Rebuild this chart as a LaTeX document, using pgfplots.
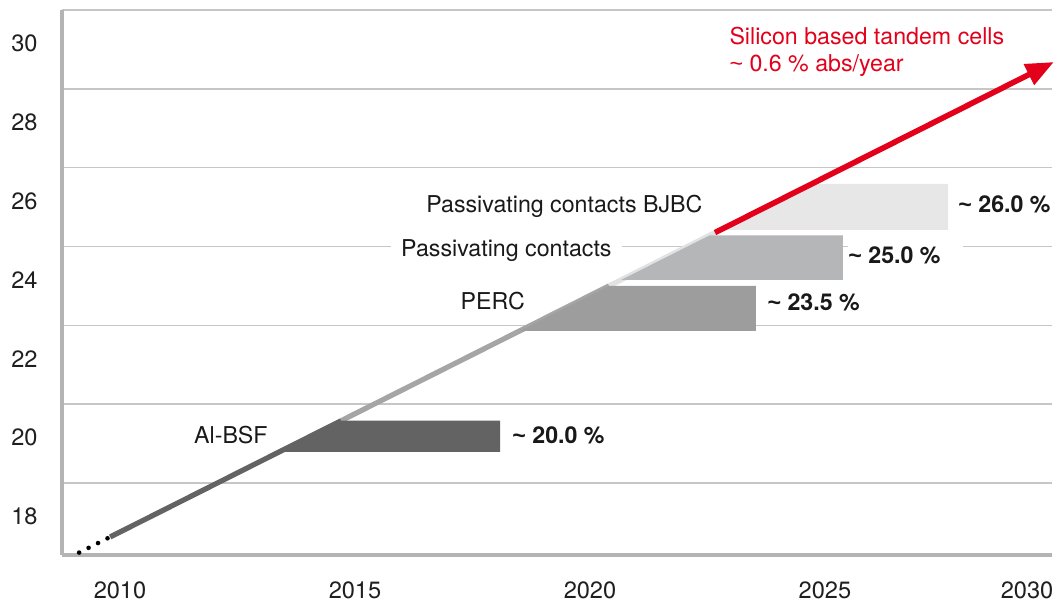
\documentclass[border=0pt]{standalone}
\usepackage{fontspec}
\setmainfont{TeX Gyre Heros}
\newfontfamily\tildefont{Liberation Sans}
\newcommand\tld{{\tildefont\char"7E}}
\usepackage{pgfplots}
\pgfplotsset{compat=1.18}
\usetikzlibrary{arrows.meta}
\definecolor{gridgray}{HTML}{C6C6C6}
\definecolor{axisgray}{HTML}{B4B4B4}
\definecolor{bsf}{HTML}{636363}
\definecolor{perc}{HTML}{9D9D9D}
\definecolor{pline}{HTML}{A5A5A5}
\definecolor{pc}{HTML}{B5B6B8}
\definecolor{bjbc}{HTML}{E7E7E7}
\definecolor{lightline}{HTML}{E2E2E2}
\definecolor{ise}{HTML}{E2001A}
\tikzset{
  lbl/.style={font=\fontsize{11.6}{14}\selectfont, text=black!90, inner sep=0pt},
  val/.style={font=\fontsize{11.6}{14}\selectfont\bfseries, text=black!90, inner sep=0pt},
}

\begin{document}
\begin{tikzpicture}
\begin{axis}[
  width=495pt, height=272.5pt, scale only axis,
  xmin=2008.766, xmax=2029.83, ymin=17.173, ymax=31,
  axis lines=left, axis line style={-, draw=axisgray, line width=1.7pt},
  xtick={2010,2015,2020,2025,2029.3},
  xticklabels={2010,2015,2020,2025,2030},
  ytick={18,20,...,30}, yticklabels={18,20,22,24,26,28,30},
  minor ytick={19,21,...,31}, yminorgrids,
  minor grid style={draw=gridgray, line width=0.7pt},
  major tick length=0pt, minor tick length=0pt,
  tick label style={font=\fontsize{11.8}{14}\selectfont, text=black!88},
  xticklabel style={anchor=north, inner sep=0pt, yshift=-13pt},
  yticklabel style={anchor=east, inner sep=0pt, xshift=-12pt, yshift=3pt},
  clip=false,
]
% trend line, efficiency ~ 0.6 %abs per year
\addplot[black, line width=2.3pt, line cap=round, dash pattern=on 0pt off 5.3pt]
  coordinates {(2009.13,17.234) (2009.79,17.63)};
\addplot[bsf, line width=2.6pt] coordinates {(2009.79,17.63) (2014.71,20.582)};
\addplot[pline, line width=2.6pt] coordinates {(2014.71,20.582) (2020.41,24.002)};
\addplot[lightline, line width=2.6pt] coordinates {(2020.41,24.002) (2022.66,25.352)};

% technology bars
\addplot[draw=none, fill=bsf] coordinates {(2013.39,19.79) (2014.71,20.58) (2018.09,20.58) (2018.09,19.79)};
\addplot[draw=none, fill=perc] coordinates {(2018.51,22.86) (2020.41,24.0) (2023.53,24.0) (2023.53,22.86)};
\addplot[draw=none, fill=pc] coordinates {(2020.66,24.15) (2022.54,25.28) (2025.38,25.28) (2025.38,24.15)};
\addplot[draw=none, fill=bjbc] coordinates {(2022.77,25.42) (2024.72,26.59) (2027.62,26.59) (2027.62,25.42)};

% tandem arrow
\addplot[ise, line width=2.8pt, -{Triangle[length=14pt, width=11pt]}]
  coordinates {(2022.66,25.352) (2029.87,29.68)};

\node[lbl, anchor=base east] at (axis cs:2013.15,20.01) {Al-BSF};
\node[val, anchor=base west] at (axis cs:2018.34,20.01) {\tld{} 20.0 \%};
\node[lbl, anchor=base east] at (axis cs:2018.62,23.39) {PERC};
\node[val, anchor=base west] at (axis cs:2023.77,23.37) {\tld{} 23.5 \%};
\node[lbl, anchor=base east, fill=white, inner xsep=5pt, inner ysep=3pt] at (axis cs:2020.68,24.74) {Passivating contacts};
\node[val, anchor=base west, fill=white, inner xsep=0pt, inner ysep=3pt] at (axis cs:2025.49,24.58) {\tld{} 25.0 \%\hspace*{11pt}};
\node[lbl, anchor=base east] at (axis cs:2022.40,25.85) {Passivating contacts BJBC};
\node[val, anchor=base west] at (axis cs:2027.83,25.85) {\tld{} 26.0 \%};
\node[lbl, anchor=base west, text=ise] at (axis cs:2022.96,30.12) {Silicon based tandem cells};
\node[lbl, anchor=base west, text=ise] at (axis cs:2022.96,29.44) {\tld{} 0.6 \% abs/year};

\coordinate (sw) at (rel axis cs:0,0);
\coordinate (ne) at (rel axis cs:1,1);
\end{axis}
\pgfresetboundingbox
\path ([shift={(-31pt,-23.5pt)}]sw) rectangle ([shift={(2.5pt,5pt)}]ne);
\end{tikzpicture}
\end{document}
